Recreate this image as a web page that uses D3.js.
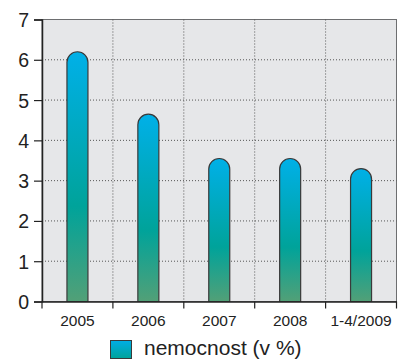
<!DOCTYPE html>
<html><head><meta charset="utf-8">
<script src="https://cdn.jsdelivr.net/npm/d3@7/dist/d3.min.js"></script>
<style>body{margin:0;background:#fff;}svg{display:block;font-family:"Liberation Sans",Arial,sans-serif;}</style>
</head><body>
<script>
const categories = ["2005","2006","2007","2008","1-4/2009"];
const values = [6.2, 4.65, 3.55, 3.55, 3.3];
const yTicks = [0,1,2,3,4,5,6,7];
const seriesName = "nemocnost (v %)";

const W=398,H=359;
const m={left:42,top:19.5,right:396.5,bottom:301.5};
const svg=d3.select("body").append("svg").attr("width",W).attr("height",H);
const defs=svg.append("defs");
const g=defs.append("linearGradient").attr("id","grad").attr("x1",0).attr("y1",0).attr("x2",0).attr("y2",1);
g.append("stop").attr("offset","0%").attr("stop-color","#00b0e8");
g.append("stop").attr("offset","62%").attr("stop-color","#00a39a");
g.append("stop").attr("offset","100%").attr("stop-color","#52a077");
const lg=defs.append("linearGradient").attr("id","lgrad").attr("x1",0).attr("y1",0).attr("x2",0).attr("y2",1);
lg.append("stop").attr("offset","0%").attr("stop-color","#00aee6");
lg.append("stop").attr("offset","100%").attr("stop-color","#00a39a");

const x=d3.scaleBand().domain(categories).range([m.left,m.right]).paddingInner(0).paddingOuter(0);
const y=d3.scaleLinear().domain([0,7]).range([m.bottom,m.top]);

svg.append("rect").attr("x",m.left).attr("y",m.top).attr("width",m.right-m.left).attr("height",m.bottom-m.top)
  .attr("fill","#e6e7e9").attr("stroke","#6d6e70").attr("stroke-width",1);

// horizontal grid
svg.append("g").selectAll("line").data(yTicks.filter(d=>d>0&&d<7)).join("line")
  .attr("x1",m.left).attr("x2",m.right).attr("y1",d=>y(d)).attr("y2",d=>y(d))
  .attr("stroke","#555").attr("stroke-width",1).attr("stroke-dasharray","1,2");
// vertical grid
svg.append("g").selectAll("line").data(categories.slice(1)).join("line")
  .attr("x1",d=>x(d)).attr("x2",d=>x(d)).attr("y1",m.top).attr("y2",m.bottom)
  .attr("stroke","#555").attr("stroke-width",1).attr("stroke-dasharray","1,2");

// bars with rounded top
const bw=21;
svg.append("g").selectAll("path").data(values).join("path")
  .attr("d",(v,i)=>{
    const cx=x(categories[i])+x.bandwidth()/2, x0=cx-bw/2, x1=cx+bw/2, r=bw/2;
    const top=y(v), bot=y(0);
    return `M${x0},${bot} L${x0},${top+r} A${r},${r} 0 0 1 ${x1},${top+r} L${x1},${bot} Z`;
  })
  .attr("fill","url(#grad)").attr("stroke","#3a3a3a").attr("stroke-width",1.2);

// axes
const ya=svg.append("g").attr("transform",`translate(${m.left},0)`)
  .call(d3.axisLeft(y).tickValues(yTicks).tickSize(8).tickPadding(5).tickFormat(d3.format("d")));
ya.attr("font-family",null);
ya.select(".domain").attr("stroke","#222").attr("stroke-width",1.5);
ya.selectAll("line").attr("stroke","#222").attr("stroke-width",1.2);
ya.selectAll("text").attr("font-size",19.5).attr("fill","#222").attr("dy","0.36em");

const xa=svg.append("g").attr("transform",`translate(0,${m.bottom})`)
  .call(d3.axisBottom(x).tickSize(0).tickPadding(0));
xa.attr("font-family",null);
xa.select(".domain").attr("stroke","#222").attr("stroke-width",1.5);
xa.selectAll("text").attr("font-size",15.5).attr("fill","#222").attr("dy",null).attr("y",24.5);
svg.append("g").selectAll("line").data([m.left, ...categories.slice(1).map(c=>x(c)), m.right]).join("line")
  .attr("x1",d=>d).attr("x2",d=>d).attr("y1",m.bottom).attr("y2",m.bottom+7)
  .attr("stroke","#222").attr("stroke-width",1.2);

// legend
svg.append("rect").attr("x",110.5).attr("y",340.5).attr("width",21).attr("height",18)
  .attr("fill","url(#lgrad)").attr("stroke","#3a3a3a").attr("stroke-width",1);
svg.append("text").attr("x",144).attr("y",355).attr("font-size",21).attr("fill","#222").text(seriesName);
</script>
</body></html>
